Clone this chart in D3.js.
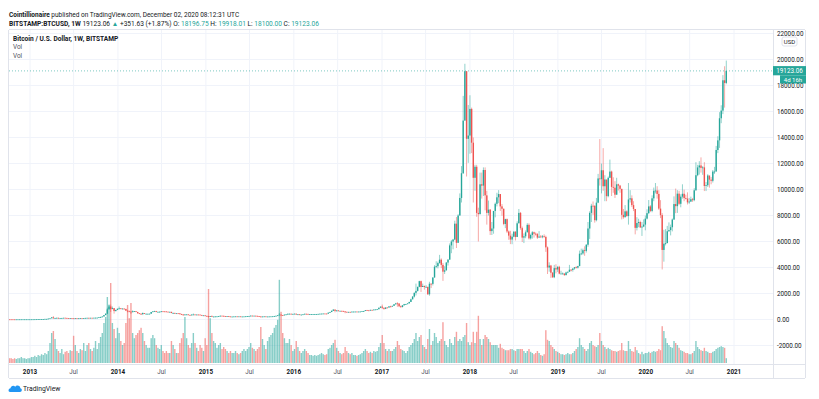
<!DOCTYPE html>
<html>
<head>
<meta charset="utf-8">
<script src="https://cdn.jsdelivr.net/npm/d3@7"></script>
<style>
html, body { margin: 0; padding: 0; background: #fff; }
svg { display: block; font-family: Roboto, "Liberation Sans", Arial, sans-serif; }
</style>
</head>
<body>
<svg id="chart" width="819" height="399"></svg>
<script>
// BITSTAMP:BTCUSD weekly candles, week of 2012-10-08 .. week of 2020-11-30
// open of each week = close of the week before
var firstOpen = 12.0;

var closes = [
  // 2012 (Oct 8 - Dec 24)
  11.8,11.7,10.9,10.8,10.9,11.0,12.3,12.5,13.2,13.3,13.4,13.4,
  // 2013
  13.5,14.2,15.4,17.5,20.4,23.6,27.2,29.8,34.0,46.9,47.0,71.5,93,162,90,119,128,111,114,118,131,122,101,99,103,89,
  76,96,91,95,104,102,106,122,129,124,130,124,135,137,142,175,181,232,339,448,780,1000,800,875,650,730,
  // 2014
  825,860,830,840,810,680,660,610,560,630,640,580,480,445,420,500,440,440,440,445,575,630,655,590,590,600,
  630,625,620,600,590,590,500,505,480,480,475,410,390,330,390,390,355,325,380,385,375,380,375,350,320,320,
  // 2015
  275,270,200,260,225,225,235,240,255,290,285,260,250,255,235,220,225,235,240,235,240,225,230,235,245,255,
  270,295,275,290,280,265,235,230,230,240,230,230,235,240,245,270,285,325,375,330,325,375,395,435,440,420,
  // 2016
  430,445,385,400,375,375,400,440,430,410,410,410,415,420,420,430,445,450,460,455,445,525,575,670,765,660,
  700,650,665,660,625,590,570,585,575,605,605,610,600,610,615,640,655,715,705,700,740,735,765,775,790,900,
  // 2017
  995,905,820,925,920,1010,1000,1050,1170,1240,1230,1020,960,1090,1180,1180,1240,1350,1550,1760,2050,2200,2510,2950,2500,2580,
  2500,2510,1940,2750,2740,3230,4060,4100,4340,4600,4200,3680,3780,4380,4610,5700,6000,6150,7370,5900,8000,9350,11250,15300,19100,13900,
  // 2018
  14150,16200,13600,10900,11750,8200,8100,10400,10300,11500,9550,8200,8450,6800,7000,8350,8900,9400,9650,8700,8520,7350,7720,6770,6450,6150,
  6370,6750,6350,7400,8200,7030,6300,6400,6710,7280,6240,6500,6710,6600,6570,6300,6380,6330,6400,6350,5550,4000,4150,3600,3250,3950,
  // 2019
  3850,4050,3530,3530,3540,3420,3620,3670,3830,3810,3920,4020,3990,4110,5060,5080,5330,5280,5750,7000,8200,8750,8740,7640,8990,10850,
  10800,11480,10250,10770,9490,10900,11380,10200,10140,9600,10400,10300,10050,8050,7870,8320,7960,9230,9320,8800,8500,7050,7420,7500,7080,7150,
  // 2020
  7300,7760,8180,8700,8350,9320,9900,9920,9660,8530,8030,5350,5830,5880,6790,6880,7100,7690,8880,8720,9680,8900,9450,9670,9340,
  9300,9010,9070,9250,9180,9940,11100,11700,11850,11660,11700,10270,10330,11080,10760,10670,11380,11380,13040,13780,15480,16070,18400,18196.75,19123.06
];

var highs = [
  12.2,12.0,11.8,11.0,11.1,11.2,12.4,12.8,13.5,13.7,13.5,13.6,
  14,14.5,15.8,18,21,25,28,31,35,48,48,75,95,190,259,126,145,140,118,122,133,134,124,110,110,104,
  90,98,99,96,108,106,107,124,135,129,134,130,136,143,145,179,218,240,343,464,900,1163,1150,1000,880,755,
  845,1000,880,860,850,830,710,680,620,700,650,640,590,500,480,540,500,460,445,455,580,630,670,660,610,610,
  650,640,630,625,600,595,590,530,520,490,485,480,440,395,395,410,395,360,385,460,390,390,385,375,350,335,
  320,300,270,270,315,245,265,250,270,300,300,290,270,265,260,240,240,240,245,245,245,240,232,238,255,260,
  275,310,295,295,298,285,270,240,235,245,245,235,240,245,252,275,300,340,500,390,340,380,400,470,470,455,
  440,460,450,410,400,390,405,445,440,440,420,420,420,425,425,435,450,465,465,460,460,535,590,690,780,770,
  710,700,675,675,665,630,600,590,590,610,630,615,610,615,620,645,660,720,740,735,755,745,775,780,800,930,
  1000,1150,910,930,925,1030,1060,1060,1190,1280,1330,1250,1080,1100,1200,1200,1245,1360,1600,1800,2080,2760,2530,2980,2990,2760,
  2610,2640,2520,2900,2800,3250,4180,4480,4450,4970,4700,4350,4100,4420,4620,5850,6120,6200,7600,7880,8100,9700,11800,17200,19670,19100,
  16500,17250,16300,14000,11900,11900,8600,11300,11300,11700,11700,9900,9150,8500,7500,8200,9000,9750,9950,9650,8880,8530,7750,7770,6850,6820,
  6600,6800,6800,7550,8500,8270,7150,6620,6850,7410,7400,6600,6800,6760,6700,6650,6800,6500,6500,6550,6450,5620,4400,4200,3650,4200,
  4250,4100,4130,3750,3620,3520,3680,3690,4200,3880,3950,4030,4100,4130,5300,5450,5450,5630,5800,7500,8320,8900,9080,8800,9350,11200,
  13880,12000,13180,11100,10660,11000,12300,11450,10940,10640,10900,10450,10350,10050,8500,8800,8400,10500,9950,9550,9100,8500,7870,7750,7600,7500,
  7700,8000,8470,9190,8800,9550,10150,10500,10250,9950,9180,8180,6900,6950,7200,7470,7300,7770,9470,10070,9950,9900,9630,10400,9990,
  9600,9780,9350,9450,9350,10100,12100,11900,12180,12470,11800,12100,10580,11180,10990,10960,11500,11740,13350,14100,15950,16480,18800,19480,19918.01
];

var lows = [
  11.4,11.3,10.6,10.5,10.6,10.8,11.0,12.0,12.4,13.0,13.1,13.2,
  13.2,13.4,14,15,17.5,20,23,26,29,34,42,47,70,93,60,70,115,76,104,110,118,113,99,95,98,86,
  66,70,85,86,94,98,98,106,117,111,121,120,123,109,124,140,150,181,226,340,420,770,580,800,450,620,
  725,780,800,790,780,650,550,550,420,560,600,560,450,420,360,340,420,420,420,430,445,560,610,560,575,560,
  600,610,605,590,570,580,480,460,475,465,470,390,370,290,320,370,345,320,315,355,345,365,360,345,305,310,
  260,265,155,200,210,212,215,230,235,255,280,245,235,240,220,215,215,218,230,230,232,222,218,225,232,240,
  250,265,270,270,275,260,230,170,200,225,225,224,225,235,238,245,265,280,320,300,310,315,360,390,430,415,
  415,425,360,355,365,365,370,400,410,400,405,405,410,410,415,420,430,440,445,450,435,440,520,570,660,550,
  620,630,650,650,610,480,565,565,570,565,600,600,590,600,605,615,630,650,680,695,700,725,725,750,770,790,
  880,810,750,800,880,910,940,990,1050,1150,980,950,890,930,1090,1150,1180,1240,1350,1560,1690,1850,2150,2480,2120,2500,
  2300,2460,1900,1830,2420,2620,3220,3950,3930,4300,3950,2970,3500,3780,4150,4580,5100,5400,6100,5500,5900,8000,9000,11200,15300,11000,
  12050,12750,12800,9000,9900,7900,6000,8100,9300,9500,8400,7300,8000,6500,6500,6600,7860,8700,8950,8350,7980,7250,7030,6650,6130,5800,
  5790,6330,6080,6340,7400,6900,5960,5880,6250,6700,6150,6150,6220,6300,6450,6200,6300,6300,6250,6300,5200,3500,3680,3200,3200,3180,
  3550,3660,3480,3500,3470,3350,3380,3560,3680,3700,3680,3830,3930,3920,4100,4950,4980,4900,5150,5600,6200,7500,8050,7450,7550,8950,
  10300,9700,9900,9100,9100,9400,10900,9500,9750,9350,9600,9920,9750,7700,7750,7850,7900,7300,9000,8650,8340,6550,6850,7100,7050,6430,
  7100,6860,7700,8100,8260,8250,9100,9700,9300,8430,7800,3850,4450,5700,5860,6740,6470,6780,7660,8180,8200,8800,8630,9300,9100,
  9230,8850,8900,9050,9050,9100,9900,11020,11150,11300,11130,9880,9880,10200,10140,10400,10540,11200,11390,12800,13200,15100,15800,16300,18100
];

// weekly volume, thousand BTC
var volumes = [
  12,12,10,12,10,12,12,15,12,12,10,12,
  12,15,15,18,15,20,18,22,20,25,22,30,50,75,80,60,35,30,25,35,22,28,30,25,32,30,68,
  45,30,25,35,32,50,30,45,50,35,30,38,55,35,50,65,75,100,115,165,145,200,100,85,62,
  88,75,55,45,50,100,145,112,150,75,62,70,75,82,88,75,55,45,38,38,62,70,62,45,38,35,
  45,30,25,30,25,25,55,45,35,25,25,50,62,75,115,62,45,38,50,75,50,38,30,45,38,30,
  62,45,185,112,75,55,50,38,45,50,35,40,35,30,25,30,25,25,30,25,22,25,30,35,30,35,
  40,50,38,35,30,35,40,90,60,45,35,55,65,70,75,88,95,108,208,128,75,62,50,50,60,45,
  30,35,55,40,30,25,30,35,30,25,20,20,18,20,18,20,22,25,22,20,22,35,38,45,50,58,
  38,30,25,22,25,40,30,25,22,25,20,20,18,20,22,25,30,35,30,25,28,25,30,28,30,40,
  50,70,50,35,30,35,30,30,35,40,55,45,35,32,30,25,30,40,45,50,60,75,55,65,70,45,
  40,35,60,85,45,55,75,65,50,55,60,102,55,45,40,60,50,45,65,78,55,60,55,65,70,100,
  52,45,52,78,50,78,118,60,45,60,70,65,60,52,45,45,45,45,38,48,38,35,32,32,32,35,
  35,32,30,35,35,35,35,30,25,30,35,28,25,22,25,30,25,20,18,22,82,58,55,45,40,35,
  30,28,25,22,22,20,22,25,22,22,25,30,35,40,62,45,40,35,30,35,50,55,45,42,40,45,
  75,55,45,40,35,38,35,32,30,30,28,30,32,50,32,30,30,55,35,30,28,40,32,25,22,28,
  22,25,25,28,25,28,30,28,30,35,32,92,80,62,50,45,40,38,55,50,45,38,32,30,28,
  25,25,22,22,25,30,55,40,35,32,30,38,30,28,25,25,28,30,35,38,40,42,40,38,12
];

var priceTicks = [-2000, 0, 2000, 4000, 6000, 8000, 10000, 12000, 14000, 16000, 18000, 20000, 22000];
var timeTickDates = ["2013-01-01","2013-07-01","2014-01-01","2014-07-01","2015-01-01","2015-07-01","2016-01-01","2016-07-01",
  "2017-01-01","2017-07-01","2018-01-01","2018-07-01","2019-01-01","2019-07-01","2020-01-01","2020-07-01","2021-01-01"];
var timeTickLabels = ["2013","Jul","2014","Jul","2015","Jul","2016","Jul","2017","Jul","2018","Jul","2019","Jul","2020","Jul","2021"];

var lastClose = 19123.06;
var upColor = "#26a69a", downColor = "#ef5350";
var textColor = "#131722", gridColor = "#f0f3fa", borderColor = "#e0e3eb";

var pane = {left: 9, right: 773, top: 30, bottom: 364};
var axisRight = 805, axisBottom = 378;

var svg = d3.select("#chart");

var weeks = d3.utcMonday.range(new Date(Date.UTC(2012, 9, 8)), new Date(Date.UTC(2020, 11, 1)));
var candles = weeks.map(function (d, i) {
  return {date: d, open: i ? closes[i - 1] : firstOpen, high: highs[i], low: lows[i], close: closes[i], vol: volumes[i]};
});

var x = d3.scaleUtc().domain([new Date(Date.UTC(2013, 0, 1)), new Date(Date.UTC(2021, 0, 1))]).range([30, 734]);
var y = d3.scaleLinear().domain([0, 20000]).range([319.5, 59.5]);
var yVol = d3.scaleLinear().domain([0, 210]).range([363, 279]);
var tickDates = timeTickDates.map(function (s) { return new Date(s + "T00:00:00Z"); });

svg.append("defs").append("clipPath").attr("id", "paneClip")
  .append("rect").attr("x", pane.left).attr("y", pane.top)
  .attr("width", pane.right - pane.left).attr("height", pane.bottom - pane.top);

// grid
var grid = svg.append("g");
grid.selectAll("line.h").data(priceTicks).enter().append("line")
  .attr("x1", pane.left).attr("x2", pane.right)
  .attr("y1", function (d) { return y(d); }).attr("y2", function (d) { return y(d); })
  .attr("stroke", gridColor).attr("stroke-width", 1);
grid.selectAll("line.v").data(tickDates).enter().append("line")
  .attr("x1", function (d) { return x(d); }).attr("x2", function (d) { return x(d); })
  .attr("y1", pane.top).attr("y2", pane.bottom)
  .attr("stroke", gridColor).attr("stroke-width", 1);

var plot = svg.append("g").attr("clip-path", "url(#paneClip)");

// volume bars
plot.append("g").selectAll("rect").data(candles).enter().append("rect")
  .attr("x", function (d) { return x(d.date) - 0.7; })
  .attr("width", 1.4)
  .attr("y", function (d) { return yVol(d.vol); })
  .attr("height", function (d) { return yVol(0) - yVol(d.vol); })
  .attr("fill", function (d) { return d.close >= d.open ? upColor : downColor; })
  .attr("fill-opacity", 0.55);

// wicks
plot.append("g").selectAll("line").data(candles).enter().append("line")
  .attr("x1", function (d) { return x(d.date); }).attr("x2", function (d) { return x(d.date); })
  .attr("y1", function (d) { return y(d.high); }).attr("y2", function (d) { return y(d.low); })
  .attr("stroke", function (d) { return d.close >= d.open ? upColor : downColor; })
  .attr("stroke-opacity", 0.5).attr("stroke-width", 1);

// bodies
plot.append("g").selectAll("rect").data(candles).enter().append("rect")
  .attr("x", function (d) { return x(d.date) - 0.7; })
  .attr("width", 1.4)
  .attr("y", function (d) { return y(Math.max(d.open, d.close)); })
  .attr("height", function (d) { return Math.max(0.8, Math.abs(y(d.open) - y(d.close))); })
  .attr("fill", function (d) { return d.close >= d.open ? upColor : downColor; });

// last price dotted line
svg.append("line").attr("x1", pane.left).attr("x2", pane.right)
  .attr("y1", y(lastClose)).attr("y2", y(lastClose))
  .attr("stroke", upColor).attr("stroke-opacity", 0.6).attr("stroke-dasharray", "1,2");

// frame
var frame = svg.append("g").attr("fill", "none").attr("stroke", borderColor).attr("stroke-width", 1);
frame.append("line").attr("x1", pane.left).attr("x2", axisRight).attr("y1", pane.top - 0.5).attr("y2", pane.top - 0.5);
frame.append("line").attr("x1", pane.left - 0.5).attr("x2", pane.left - 0.5).attr("y1", pane.top).attr("y2", axisBottom);
frame.append("line").attr("x1", pane.right + 0.5).attr("x2", pane.right + 0.5).attr("y1", pane.top).attr("y2", axisBottom);
frame.append("line").attr("x1", axisRight + 0.5).attr("x2", axisRight + 0.5).attr("y1", pane.top).attr("y2", axisBottom);
frame.append("line").attr("x1", pane.left).attr("x2", axisRight).attr("y1", pane.bottom + 0.5).attr("y2", pane.bottom + 0.5);
frame.append("line").attr("x1", pane.left).attr("x2", axisRight).attr("y1", axisBottom + 0.5).attr("y2", axisBottom + 0.5);

// price axis
svg.append("g").selectAll("text").data(priceTicks).enter().append("text")
  .attr("x", 777).attr("y", function (d) { return y(d) + 2.2; })
  .attr("font-size", 6.3).attr("fill", textColor)
  .text(function (d) { return d.toFixed(2); });

// USD badge
svg.append("rect").attr("x", 782).attr("y", 37).attr("width", 15).attr("height", 9).attr("rx", 2)
  .attr("fill", "#fff").attr("stroke", borderColor);
svg.append("text").attr("x", 789.5).attr("y", 43.6).attr("text-anchor", "middle")
  .attr("font-size", 6).attr("fill", textColor).text("USD");

// last price labels
var ly = y(lastClose);
svg.append("rect").attr("x", 773).attr("y", ly - 4.8).attr("width", 33).attr("height", 9.2).attr("fill", upColor);
svg.append("text").attr("x", 789.5).attr("y", ly + 2.1).attr("text-anchor", "middle")
  .attr("font-size", 6.3).attr("fill", "#fff").text(lastClose.toFixed(2));
svg.append("rect").attr("x", 780).attr("y", ly + 4.4).attr("width", 26).attr("height", 8.2).attr("fill", upColor);
svg.append("text").attr("x", 793).attr("y", ly + 10.6).attr("text-anchor", "middle")
  .attr("font-size", 6).attr("fill", "#fff").text("4d 16h");

// time axis
svg.append("g").selectAll("text").data(tickDates).enter().append("text")
  .attr("x", function (d) { return x(d); }).attr("y", 373.8)
  .attr("text-anchor", "middle").attr("font-size", 6.3)
  .attr("font-weight", function (d, i) { return timeTickLabels[i] === "Jul" ? 400 : 700; })
  .attr("fill", function (d, i) { return timeTickLabels[i] === "Jul" ? "#50535e" : textColor; })
  .text(function (d, i) { return timeTickLabels[i]; });

// header
var h1 = svg.append("text").attr("x", 9).attr("y", 17).attr("font-size", 6.5).attr("fill", textColor);
h1.append("tspan").attr("font-weight", 700).text("Cointillionaire");
h1.append("tspan").text(" published on TradingView.com, December 02, 2020 08:12:31 UTC");

var h2 = svg.append("text").attr("x", 9).attr("y", 25.6).attr("font-size", 6.6).attr("fill", textColor);
h2.append("tspan").attr("font-weight", 700).text("BITSTAMP:BTCUSD, 1W");
h2.append("tspan").text("  19123.06 ");
h2.append("tspan").attr("fill", upColor).text("\u25B2");
h2.append("tspan").text(" +351.63 (+1.87%) O: ");
h2.append("tspan").attr("fill", upColor).text("18196.75");
h2.append("tspan").text(" H: ");
h2.append("tspan").attr("fill", upColor).text("19918.01");
h2.append("tspan").text(" L: ");
h2.append("tspan").attr("fill", upColor).text("18100.00");
h2.append("tspan").text(" C: ");
h2.append("tspan").attr("fill", upColor).text("19123.06");

svg.append("text").attr("x", 13).attr("y", 40.5).attr("font-size", 6.6).attr("font-weight", 700)
  .attr("fill", textColor).text("Bitcoin / U.S. Dollar, 1W, BITSTAMP");
svg.append("text").attr("x", 13).attr("y", 49).attr("font-size", 6.4).attr("fill", "#50535e").text("Vol");
svg.append("text").attr("x", 13).attr("y", 58.3).attr("font-size", 6.4).attr("fill", "#50535e").text("Vol");

// TradingView logo
var logo = svg.append("g");
logo.append("path")
  .attr("d", "M10,392 C8,392 8,388.5 10.5,388.3 C10.8,385.8 13.8,385 15.2,386.8 C16.5,384.6 20.5,385.3 20.3,388.3 C22.5,388.6 22.3,392 20,392 Z")
  .attr("fill", "#2196f3");
logo.append("text").attr("x", 23).attr("y", 390.6).attr("font-size", 6.8).attr("fill", textColor).text("TradingView");
</script>
</body>
</html>
